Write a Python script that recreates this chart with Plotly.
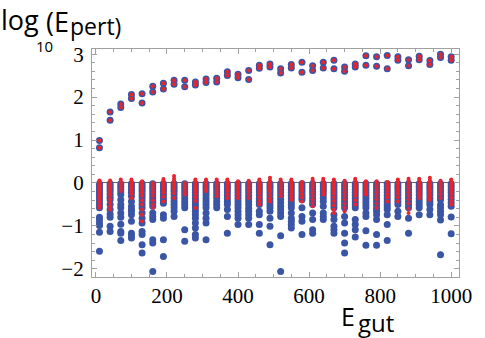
import plotly.graph_objects as go

# ===== DATA =====
e_gut = [10, 40, 70, 100, 130, 160, 190, 220, 250, 280, 310, 340, 370, 400, 430, 460, 490,
         520, 550, 580, 610, 640, 670, 700, 730, 760, 790, 820, 850, 880, 910, 940, 970, 1000]

# the two perturbative branches (log10 E_pert > 0)
pert_hi = [0.99, 1.65, 1.84, 2.06, 2.08, 2.25, 2.32, 2.39, 2.39, 2.35, 2.42, 2.44, 2.59, 2.53, 2.62, 2.74, 2.77,
           2.66, 2.76, 2.81, 2.73, 2.81, 2.86, 2.70, 2.77, 2.96, 2.94, 2.97, 2.94, 2.87, 2.95, 2.85, 3.00, 2.94]
pert_lo = [0.82, 1.46, 1.76, 1.97, 1.86, 2.12, 2.19, 2.30, 2.24, 2.28, 2.34, 2.35, 2.50, 2.45, 2.41, 2.67, 2.70,
           2.56, 2.68, 2.58, 2.62, 2.68, 2.66, 2.60, 2.70, 2.74, 2.72, 2.66, 2.86, 2.73, 2.87, 2.76, 2.92, 2.86]

# non-perturbative points below zero, blue set (one list per E_gut column)
low_blue = [
    [-0.02, -0.07, -0.12, -0.18, -0.24, -0.3, -0.37, -0.44, -0.51, -0.58, -0.8, -0.85, -0.93, -0.99, -1.15, -1.59],
    [-0.02, -0.07, -0.13, -0.19, -0.26, -0.33, -0.39, -0.5, -0.62, -0.72, -0.8, -1.01, -1.13],
    [-0.02, -0.08, -0.14, -0.21, -0.27, -0.39, -0.5, -0.58, -0.7, -0.8, -0.96, -1.13, -1.17, -1.34],
    [-0.02, -0.08, -0.15, -0.22, -0.31, -0.43, -0.54, -0.62, -0.66, -0.74, -0.89, -1.17, -1.23, -1.28],
    [-0.02, -0.08, -0.14, -0.2, -0.27, -0.34, -0.42, -0.5, -0.58, -0.7, -0.82, -0.93, -1.13, -1.2, -1.44, -1.63],
    [-0.02, -0.08, -0.14, -0.21, -0.28, -0.35, -0.42, -0.48, -0.54, -0.7, -0.78, -0.85, -1.32, -1.4, -2.06],
    [-0.02, -0.08, -0.14, -0.2, -0.27, -0.34, -0.41, -0.47, -0.74, -0.82, -1.32, -1.71],
    [-0.02, -0.08, -0.14, -0.2, -0.27, -0.35, -0.43, -0.5, -0.58, -0.66, -0.78],
    [-0.02, -0.08, -0.14, -0.21, -0.28, -0.36, -0.44, -0.51, -0.58, -1.09, -1.36],
    [-0.02, -0.08, -0.15, -0.22, -0.3, -0.37, -0.44, -0.51, -0.58, -0.66, -0.74, -0.82, -0.93, -1.05, -1.2, -1.28],
    [-0.02, -0.08, -0.14, -0.21, -0.28, -0.36, -0.43, -0.5, -0.58, -0.7, -0.82, -0.93, -1.32],
    [-0.02, -0.08, -0.14, -0.21, -0.28, -0.35, -0.43, -0.5, -0.58],
    [-0.02, -0.08, -0.14, -0.21, -0.28, -0.36, -0.43, -0.5, -0.62, -0.78, -1.17],
    [-0.02, -0.08, -0.15, -0.22, -0.29, -0.36, -0.44, -0.51, -0.58, -0.66, -0.74, -0.82, -0.97],
    [-0.02, -0.08, -0.15, -0.22, -0.3, -0.37, -0.44, -0.51, -0.59, -0.66, -0.74, -0.82, -0.97],
    [-0.02, -0.08, -0.14, -0.21, -0.28, -0.36, -0.43, -0.5, -0.66, -0.74, -0.97, -1.17],
    [-0.02, -0.08, -0.14, -0.21, -0.28, -0.36, -0.44, -0.51, -0.58, -0.66, -0.82, -1.01, -1.44],
    [-0.02, -0.08, -0.15, -0.22, -0.3, -0.38, -0.46, -0.54, -0.62, -0.7, -0.78, -1.23, -2.06],
    [-0.02, -0.08, -0.15, -0.22, -0.29, -0.36, -0.44, -0.51, -0.58, -0.7, -0.82, -0.89, -0.97, -1.05],
    [-0.02, -0.08, -0.14, -0.2, -0.27, -0.33, -0.39, -0.58, -0.78, -0.89, -1.2],
    [-0.02, -0.08, -0.14, -0.21, -0.28, -0.36, -0.43, -0.5, -0.7, -0.85, -1.09, -1.17],
    [-0.02, -0.08, -0.14, -0.2, -0.27, -0.35, -0.43, -0.54, -0.7, -0.78, -0.85],
    [-0.02, -0.08, -0.15, -0.22, -0.29, -0.36, -0.44, -0.51, -0.58, -0.74, -0.85, -1.01, -1.09, -1.17],
    [-0.02, -0.08, -0.15, -0.22, -0.29, -0.36, -0.44, -0.51, -0.58, -0.78, -0.93, -1.17, -1.4, -1.63],
    [-0.02, -0.08, -0.15, -0.22, -0.29, -0.36, -0.44, -0.51, -0.58, -0.85, -0.97, -1.09, -1.26],
    [-0.02, -0.08, -0.15, -0.22, -0.29, -0.36, -0.44, -0.51, -0.58, -0.7, -0.78, -1.11, -1.45],
    [-0.02, -0.08, -0.15, -0.22, -0.3, -0.37, -0.44, -0.51, -0.59, -0.66, -0.74, -0.85, -1.2, -1.45],
    [-0.02, -0.08, -0.15, -0.22, -0.29, -0.36, -0.43, -0.5, -0.56, -0.62, -0.74, -0.97, -1.34],
    [-0.02, -0.08, -0.14, -0.21, -0.28, -0.36, -0.43, -0.5, -0.66, -0.78],
    [-0.02, -0.08, -0.15, -0.22, -0.29, -0.36, -0.44, -0.51, -0.58, -0.82, -1.17],
    [-0.02, -0.08, -0.14, -0.21, -0.28, -0.36, -0.43, -0.5, -0.58, -0.74],
    [-0.02, -0.08, -0.14, -0.21, -0.28, -0.36, -0.43, -0.5, -0.62, -0.74],
    [-0.02, -0.08, -0.14, -0.2, -0.27, -0.33, -0.39, -0.51, -0.58, -0.66, -0.74, -0.86, -1.67],
    [-0.02, -0.08, -0.15, -0.22, -0.3, -0.38, -0.46, -0.54, -0.79, -1.18],
]

# red set, drawn on top
low_red = [
    [0.06, 0.02, -0.02, -0.06, -0.1, -0.14, -0.19, -0.24, -0.3, -0.36, -0.44, -0.52, -0.58],
    [0.06, 0.02, -0.03, -0.08, -0.13, -0.18, -0.24, -0.3, -0.38, -0.46, -0.54, -0.62],
    [0.08, 0.03, -0.02, -0.07, -0.12, -0.19],
    [0.08, 0.03, -0.02, -0.07, -0.12, -0.18, -0.25, -0.35],
    [0.04, 0.0, -0.05, -0.1, -0.16, -0.22, -0.3, -0.4, -0.5, -0.62, -0.74, -0.89],
    [0.0, -0.05, -0.1, -0.16, -0.22, -0.3, -0.4, -0.5, -0.58],
    [0.09, 0.05, 0.0, -0.05, -0.1, -0.16, -0.23, -0.32, -0.43],
    [0.16, 0.1, 0.05, 0.0, -0.05, -0.1, -0.16, -0.24, -0.35],
    [0.0, -0.05, -0.1, -0.16, -0.22, -0.27],
    [0.08, 0.03, -0.02, -0.07, -0.12, -0.18, -0.25, -0.33, -0.42, -0.58],
    [0.08, 0.03, -0.02, -0.07, -0.13, -0.19],
    [0.08, 0.03, -0.02, -0.07, -0.12, -0.18, -0.24, -0.31],
    [0.08, 0.03, -0.02, -0.07, -0.12, -0.18, -0.26, -0.35],
    [0.04, 0.0, -0.05, -0.1, -0.16, -0.22, -0.28, -0.35],
    [0.05, 0.01, -0.04, -0.09, -0.14, -0.2, -0.27, -0.35],
    [0.08, 0.03, -0.02, -0.07, -0.12, -0.18, -0.25, -0.33, -0.42, -0.5],
    [0.12, 0.07, 0.02, -0.03, -0.08, -0.14, -0.2, -0.28, -0.36, -0.43],
    [0.08, 0.03, -0.02, -0.07, -0.12, -0.18, -0.24, -0.31],
    [0.08, 0.03, -0.02, -0.07, -0.12, -0.18, -0.25, -0.32, -0.39],
    [0.02, -0.03, -0.08, -0.13, -0.19, -0.26, -0.34, -0.43],
    [0.1, 0.05, 0.0, -0.05, -0.1, -0.16, -0.23, -0.3, -0.38, -0.46, -0.54],
    [0.1, 0.05, 0.0, -0.05, -0.1, -0.16, -0.21, -0.27],
    [0.08, 0.03, -0.02, -0.07, -0.12, -0.18, -0.25, -0.33, -0.42, -0.52, -0.62, -0.7],
    [0.05, 0.0, -0.05, -0.1, -0.16, -0.22, -0.3, -0.38, -0.48, -0.57, -0.66],
    [0.1, 0.05, 0.0, -0.05, -0.1, -0.16, -0.22, -0.3, -0.4, -0.5],
    [0.04, 0.0, -0.05, -0.1, -0.16, -0.22, -0.27],
    [0.04, 0.0, -0.05, -0.1, -0.16, -0.22, -0.3, -0.38, -0.48, -0.58],
    [0.02, -0.03, -0.08, -0.13, -0.19, -0.26, -0.34, -0.43],
    [0.08, 0.03, -0.02, -0.07, -0.12, -0.18, -0.25, -0.33, -0.43],
    [0.1, 0.05, 0.0, -0.05, -0.1, -0.16, -0.22, -0.3, -0.38, -0.48, -0.6, -0.7],
    [0.1, 0.05, 0.0, -0.05, -0.1, -0.16, -0.22, -0.28, -0.35],
    [0.12, 0.07, 0.02, -0.03, -0.08, -0.14, -0.2, -0.27, -0.33, -0.39],
    [0.05, 0.01, -0.04, -0.09, -0.14, -0.2, -0.27, -0.35],
    [0.08, 0.03, -0.02, -0.07, -0.12, -0.18, -0.25, -0.33, -0.42, -0.5],
]

x_ticks = [0, 200, 400, 600, 800, 1000]
y_ticks = [-2, -1, 0, 1, 2, 3]

BLUE = "#3b55a6"
RED = "#e8242c"

# ===== flatten into point lists =====
bx, by, rx, ry = [], [], [], []
for i, x in enumerate(e_gut):
    for v in (pert_hi[i], pert_lo[i]):
        bx.append(x); by.append(v)
        rx.append(x); ry.append(v)
    for v in low_blue[i]:
        bx.append(x); by.append(v)
    for v in low_red[i]:
        rx.append(x); ry.append(v)

fig = go.Figure()
fig.add_trace(go.Scatter(x=bx, y=by, mode="markers", marker=dict(color=BLUE, size=7, line_width=0),
                         showlegend=False))
fig.add_trace(go.Scatter(x=rx, y=ry, mode="markers", marker=dict(color=RED, size=4, line_width=0),
                         showlegend=False))

W, H = 485, 338
L, R, T, B = 92, 26, 49, 61


def px(xp):
    return (xp - L) / (W - L - R)


def py(yp):
    return (H - B - yp) / (H - T - B)


serif = "Liberation Serif, Times New Roman, serif"
frame = dict(showline=True, linecolor="#a0a0a0", linewidth=1.2, mirror="ticks", showgrid=False,
             ticks="inside", tickcolor="#a0a0a0", ticklen=5, tickwidth=1,
             tickfont=dict(family=serif, size=21, color="black"))

fig.update_xaxes(range=[-11, 1022], tickvals=x_ticks, zeroline=False,
                 minor=dict(ticks="inside", dtick=50, ticklen=2.5, tickcolor="#a0a0a0", showgrid=False),
                 **frame)
fig.update_yaxes(range=[-2.19, 3.12], tickvals=y_ticks, zeroline=True, zerolinecolor="#666666",
                 zerolinewidth=1, ticklabelstandoff=3,
                 minor=dict(ticks="inside", dtick=0.2, ticklen=2.5, tickcolor="#a0a0a0", showgrid=False),
                 **frame)

lab = dict(family="Open Sans", color="black")
notes = [
    ("log", 0, 19, 27),
    ("10", 35, 46, 15),
    ("(E", 45, 22, 27),
    ("pert)", 69, 26, 23),
    ("E", 340, 316, 25),
    ("gut", 357, 322, 24),
]
for txt, xp, yp, sz in notes:
    fig.add_annotation(text=txt, x=px(xp), y=py(yp), xref="paper", yref="paper", showarrow=False,
                       xanchor="left", yanchor="middle", borderpad=0, font=dict(size=sz, **lab))

fig.update_layout(width=W, height=H, margin=dict(l=L, r=R, t=T, b=B),
                  plot_bgcolor="white", paper_bgcolor="white")

# page body margin would shift the figure by 8px
fig.write_html("out.html", config={"displayModeBar": False},
               post_script="document.body.style.margin='0';")
